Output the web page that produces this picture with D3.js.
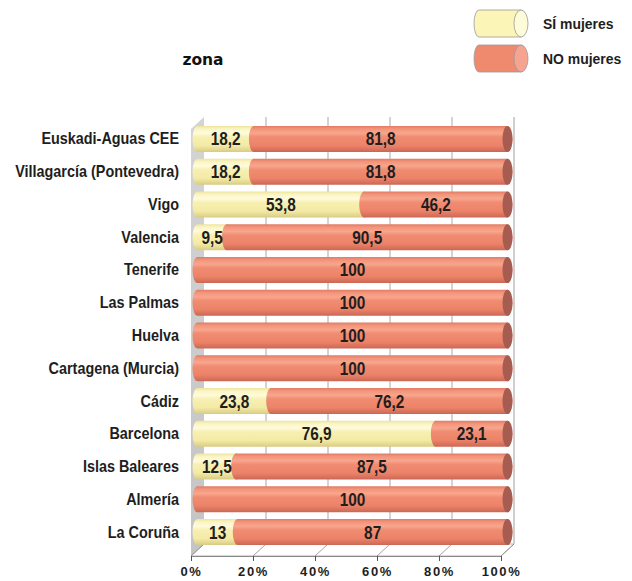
<!DOCTYPE html>
<html>
<head>
<meta charset="utf-8">
<script src="https://cdn.jsdelivr.net/npm/d3@7"></script>
<style>
  html, body { margin: 0; padding: 0; background: #fff; }
  svg { display: block; }
</style>
</head>
<body>
<svg id="chart" width="632" height="581"></svg>
<script>
// Zones and the share of each with / without women
const zonas = ["Euskadi-Aguas CEE", "Villagarcía (Pontevedra)", "Vigo", "Valencia", "Tenerife",
  "Las Palmas", "Huelva", "Cartagena (Murcia)", "Cádiz", "Barcelona", "Islas Baleares", "Almería", "La Coruña"];
const siMujeres = [18.2, 18.2, 53.8, 9.5, 0, 0, 0, 0, 23.8, 76.9, 12.5, 0, 13];
const noMujeres = [81.8, 81.8, 46.2, 90.5, 100, 100, 100, 100, 76.2, 23.1, 87.5, 100, 87];
const seriesNames = ["SÍ mujeres", "NO mujeres"];
const tickValues = [0, 20, 40, 60, 80, 100];

const svg = d3.select("#chart");
const defs = svg.append("defs");

const fontLabel = "'Liberation Sans', Arial, sans-serif";

// condensed bold text: horizontally squeezed around its anchor point
function narrowText(sel, px, py, size, sx, anchor) {
  return sel.append("text")
    .attr("transform", `translate(${px},${py}) scale(${sx},1)`)
    .attr("text-anchor", anchor)
    .attr("font-family", fontLabel).attr("font-weight", "bold").attr("font-size", size)
    .attr("fill", "#1e1e1e");
}

// cylinder shading gradients
function cylGradient(id, stops) {
  const g = defs.append("linearGradient").attr("id", id)
    .attr("x1", 0).attr("y1", 0).attr("x2", 0).attr("y2", 1);
  stops.forEach(([o, c]) => g.append("stop").attr("offset", o).attr("stop-color", c));
}
cylGradient("gSi", [[0, "#EDE39C"], [0.12, "#FBF5C4"], [0.28, "#FFFBDD"], [0.42, "#F8F0B2"], [0.75, "#F3EAA6"], [0.92, "#E2D68E"], [1, "#D6CA84"]]);
cylGradient("gNo", [[0, "#E07A64"], [0.12, "#F3957B"], [0.28, "#F8A68E"], [0.42, "#F08C72"], [0.75, "#EC8368"], [0.92, "#D6705C"], [1, "#C86654"]]);
cylGradient("gWall", [[0, "#D4D4D4"], [1, "#C4C4C4"]]);

const colors = { si: "url(#gSi)", no: "url(#gNo)" };
const capColor = { si: "#D9CD88", no: "#A65C50" };

// 3D frame geometry
const depthX = 13, depthY = -12;
const x = d3.scaleLinear().domain([0, 100]).range([191, 501]);
const floorY = 556;
const topY = 129;

const y = d3.scaleBand().domain(zonas).range([122.6, 548.4]).paddingInner(0.2).paddingOuter(0.1);

// left wall
svg.append("polygon")
  .attr("points", [[x(0), topY], [x(0) + depthX, topY + depthY], [x(0) + depthX, floorY + depthY], [x(0), floorY]].join(" "))
  .attr("fill", "url(#gWall)");

// floor
svg.append("polygon")
  .attr("points", [[x(0), floorY], [x(0) + depthX, floorY + depthY], [x(100) + depthX, floorY + depthY], [x(100), floorY]].join(" "))
  .attr("fill", "#fff").attr("stroke", "#a0a0a0").attr("stroke-width", 0.8);

// back wall gridlines
svg.append("g").selectAll("line").data(tickValues.slice(1)).join("line")
  .attr("x1", d => x(d) + depthX).attr("x2", d => x(d) + depthX)
  .attr("y1", topY + depthY).attr("y2", floorY + depthY)
  .attr("stroke", d => d === 100 ? "#cfcfcf" : "#a8a8a8")
  .attr("stroke-width", d => d === 100 ? 2 : 1);

// floor diagonals
svg.append("g").selectAll("line").data(tickValues).join("line")
  .attr("x1", d => x(d)).attr("y1", floorY)
  .attr("x2", d => x(d) + depthX).attr("y2", floorY + depthY)
  .attr("stroke", "#8a8a8a").attr("stroke-width", 0.8);

// bars
const rows = zonas.map((z, i) => ({ zona: z, si: siMujeres[i], no: noMujeres[i] }));
const barOff = depthX / 2;
const rx = 5;

function cylinderPath(a, b, yt, h) {
  const ry = h / 2;
  return `M${a},${yt} L${b},${yt} A${rx},${ry} 0 0 1 ${b},${yt + h} L${a},${yt + h} A${rx},${ry} 0 0 1 ${a},${yt} Z`;
}

const barG = svg.append("g");
rows.forEach(r => {
  const yt = y(r.zona), h = y.bandwidth();
  const segs = [
    { key: "si", v0: 0, v1: r.si, val: r.si },
    { key: "no", v0: r.si, v1: r.si + r.no, val: r.no }
  ].filter(s => s.val > 0);
  segs.forEach(s => {
    const a = x(s.v0) + barOff, b = x(s.v1) + barOff;
    barG.append("path").attr("d", cylinderPath(a, b, yt, h))
      .attr("fill", colors[s.key]);
    barG.append("ellipse").attr("cx", b).attr("cy", yt + h / 2)
      .attr("rx", rx).attr("ry", h / 2).attr("fill", capColor[s.key]);
  });
  segs.forEach(s => {
    const a = x(s.v0) + barOff, b = x(s.v1) + barOff;
    narrowText(barG, (a + b) / 2, yt + h / 2 + 6.5, 17.5, 0.88, "middle")
      .text(String(s.val).replace(".", ","));
  });
});

// category labels
const catG = svg.append("g");
zonas.forEach(z => {
  narrowText(catG, 179, y(z) + y.bandwidth() / 2 + 5.5, 16, 0.9, "end").text(z);
});

// bottom axis
const axis = svg.append("g").attr("transform", `translate(0,${floorY})`)
  .call(d3.axisBottom(x).tickValues(tickValues).tickFormat(d => d + "%").tickSize(5).tickSizeOuter(0));
axis.select(".domain").attr("stroke", "#8a8a8a");
axis.selectAll(".tick line").attr("stroke", "#555");
axis.selectAll(".tick text")
  .attr("y", 10).attr("dy", 0).attr("dominant-baseline", "hanging")
  .attr("font-family", fontLabel).attr("font-weight", "bold").attr("font-size", 13)
  .attr("letter-spacing", 1.6).attr("fill", "#1e1e1e");

// title
svg.append("text").attr("x", 203).attr("y", 65).attr("text-anchor", "middle")
  .attr("font-family", "'DejaVu Sans', sans-serif").attr("font-weight", "bold").attr("font-size", 15.5)
  .attr("fill", "#111").text("zona");

// legend
const legend = svg.append("g");
[{ key: "si", y0: 10 }, { key: "no", y0: 45 }].forEach((l, i) => {
  const a = 479, b = 521, h = 27, ry = h / 2;
  legend.append("path").attr("d", cylinderPath(a, b, l.y0, h))
    .attr("fill", l.key === "si" ? "#FBF6B8" : "#F08A6E").attr("stroke", "#999").attr("stroke-width", 0.8);
  legend.append("ellipse").attr("cx", b).attr("cy", l.y0 + ry).attr("rx", 7).attr("ry", ry)
    .attr("fill", l.key === "si" ? "#FDFBD8" : "#F6A490").attr("stroke", "#999").attr("stroke-width", 0.8);
  narrowText(legend, 543, l.y0 + ry + 5.5, 15.5, 0.9, "start").text(seriesNames[i]);
});
</script>
</body>
</html>
